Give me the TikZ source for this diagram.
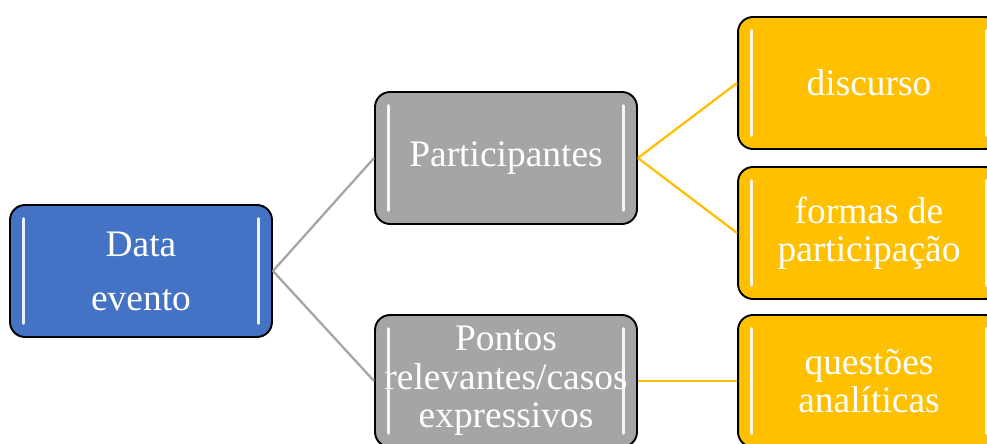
\documentclass[tikz,border=0pt]{standalone}
\usepackage{fontspec}
\setmainfont{Liberation Serif}
\usetikzlibrary{calc}
\definecolor{boxblue}{HTML}{4472C4}
\definecolor{boxgray}{HTML}{A5A5A5}
\definecolor{boxgold}{HTML}{FFC000}
\tikzset{
    topic/.style={draw=black, line width=1.1pt, rounded corners=0.3cm,
        minimum width=5.24cm, minimum height=2.64cm, inner sep=0pt,
        text=white, align=center, font=\fontsize{21.3}{21.8}\selectfont,
        path picture={
            \draw[shine] ([xshift=0.26cm,yshift=-0.27cm]path picture bounding box.north west)
                -- ([xshift=0.26cm,yshift=0.27cm]path picture bounding box.south west);
            \draw[shine] ([xshift=-0.26cm,yshift=-0.27cm]path picture bounding box.north east)
                -- ([xshift=-0.26cm,yshift=0.27cm]path picture bounding box.south east);
        }},
    shine/.style={white, line width=1.7pt, line cap=round, opacity=0.9},
    link/.style={line width=1.3pt}
}

\begin{document}
\begin{tikzpicture}[x=0.02cm, y=0.02cm]
    \useasboundingbox (0,0) rectangle (987,443);
    \clip (0,0) rectangle (987,443);

    \node[topic, fill=boxblue] (data) at (141,172) {Data\\[9pt]evento};

    \node[topic, fill=boxgray] (part) at (506,285) {Participantes};
    \node[topic, fill=boxgray] (pontos) at (506,62) {Pontos\\relevantes/casos\\expressivos};

    \node[topic, fill=boxgold] (disc) at (869,360) {discurso};
    \node[topic, fill=boxgold] (formas) at (869,210) {formas de\\participação};
    \node[topic, fill=boxgold] (quest) at (869,62) {questões\\analíticas};

    \draw[link, boxgray] (data.east) -- (part.west);
    \draw[link, boxgray] (data.east) -- (pontos.west);

    \draw[link, boxgold] (part.east) -- (disc.west);
    \draw[link, boxgold] (part.east) -- (formas.west);
    \draw[link, boxgold] (pontos.east) -- (quest.west);
\end{tikzpicture}
\end{document}
